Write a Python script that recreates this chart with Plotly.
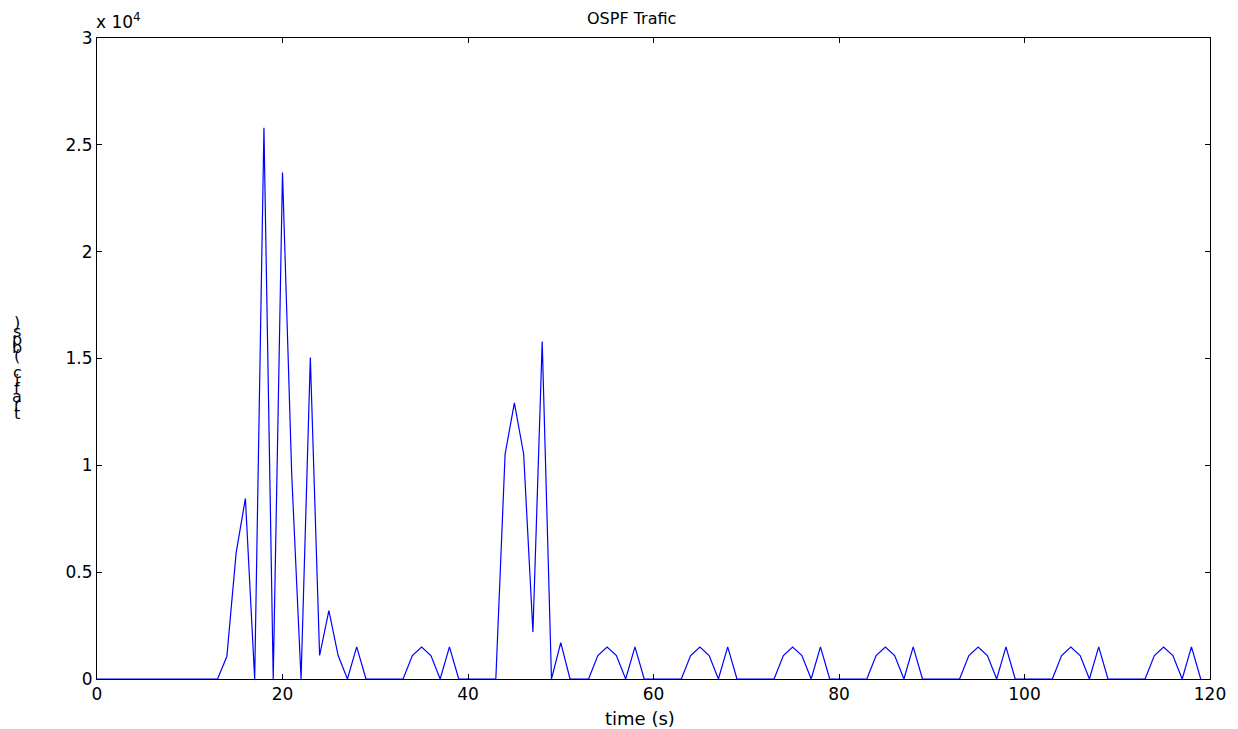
import plotly.graph_objects as go

time_s = list(range(120))
traffic_bps = [
    0, 0, 0, 0, 0, 0, 0, 0, 0, 0,            # 0-9
    0, 0, 0, 0, 1050, 5900, 8450, 0, 25800, 0,  # 10-19
    23700, 9500, 0, 15050, 1100, 3200, 1100, 0, 1500, 0,  # 20-29
    0, 0, 0, 0, 1100, 1500, 1100, 0, 1500, 0,  # 30-39
    0, 0, 0, 0, 10530, 12920, 10530, 2200, 15800, 0,  # 40-49
    1700, 0, 0, 0, 1100, 1500, 1100, 0, 1500, 0,  # 50-59
    0, 0, 0, 0, 1100, 1500, 1100, 0, 1500, 0,  # 60-69
    0, 0, 0, 0, 1100, 1500, 1100, 0, 1500, 0,  # 70-79
    0, 0, 0, 0, 1100, 1500, 1100, 0, 1500, 0,  # 80-89
    0, 0, 0, 0, 1100, 1500, 1100, 0, 1500, 0,  # 90-99
    0, 0, 0, 0, 1100, 1500, 1100, 0, 1500, 0,  # 100-109
    0, 0, 0, 0, 1100, 1500, 1100, 0, 1500, 0,  # 110-119
]
x_ticks = [0, 20, 40, 60, 80, 100, 120]
y_ticks = [0, 5000, 10000, 15000, 20000, 25000, 30000]
y_tick_labels = ["0", "0.5", "1", "1.5", "2", "2.5", "3"]
title_text = "OSPF Trafic"
x_label = "time (s)"
y_label = "trafic (bps)"
exponent_label = "x 10<sup>4</sup>"

W, H = 1238, 729
ML, MR, MT, MB = 97, 25, 38, 50
FONT = "DejaVu Sans, Liberation Sans, Arial, sans-serif"

fig = go.Figure()
fig.add_trace(go.Scatter(x=time_s, y=traffic_bps, mode="lines",
                         line=dict(color="#0000ff", width=1.2), showlegend=False))

axis_common = dict(showgrid=False, zeroline=False, showline=True, linecolor="black",
                   linewidth=1, mirror="allticks", ticks="inside", ticklen=5,
                   tickcolor="black", tickfont=dict(family=FONT, size=17, color="black"))
fig.update_xaxes(range=[0, 120], tickvals=x_ticks, **axis_common)
fig.update_yaxes(range=[0, 30000], tickvals=y_ticks, ticktext=y_tick_labels, **axis_common)


def ann(text, xpx, ypx, size, family=FONT, xanchor="center"):
    return dict(text=text, x=(xpx - ML) / (W - ML - MR),
                y=1 - (ypx - MT) / (H - MT - MB), xref="paper", yref="paper",
                xanchor=xanchor, yanchor="middle", showarrow=False,
                font=dict(family=family, size=size, color="black"))


annotations = [
    ann(title_text, 633, 18, 16),
    ann(x_label, 641, 718, 18),
    ann(exponent_label, 94, 21, 17, xanchor="left"),
]

# Y label drawn as stacked upright characters (as in the reference)
y_bottom, step = 413, 8.2
for i, ch in enumerate(y_label):
    if ch == " ":
        continue
    annotations.append(ann(ch, 17, y_bottom - i * step, 16))

fig.update_layout(width=W, height=H, margin=dict(l=ML, r=MR, t=MT, b=MB),
                  plot_bgcolor="white", paper_bgcolor="white",
                  annotations=annotations)

fig.write_html("out.html")
